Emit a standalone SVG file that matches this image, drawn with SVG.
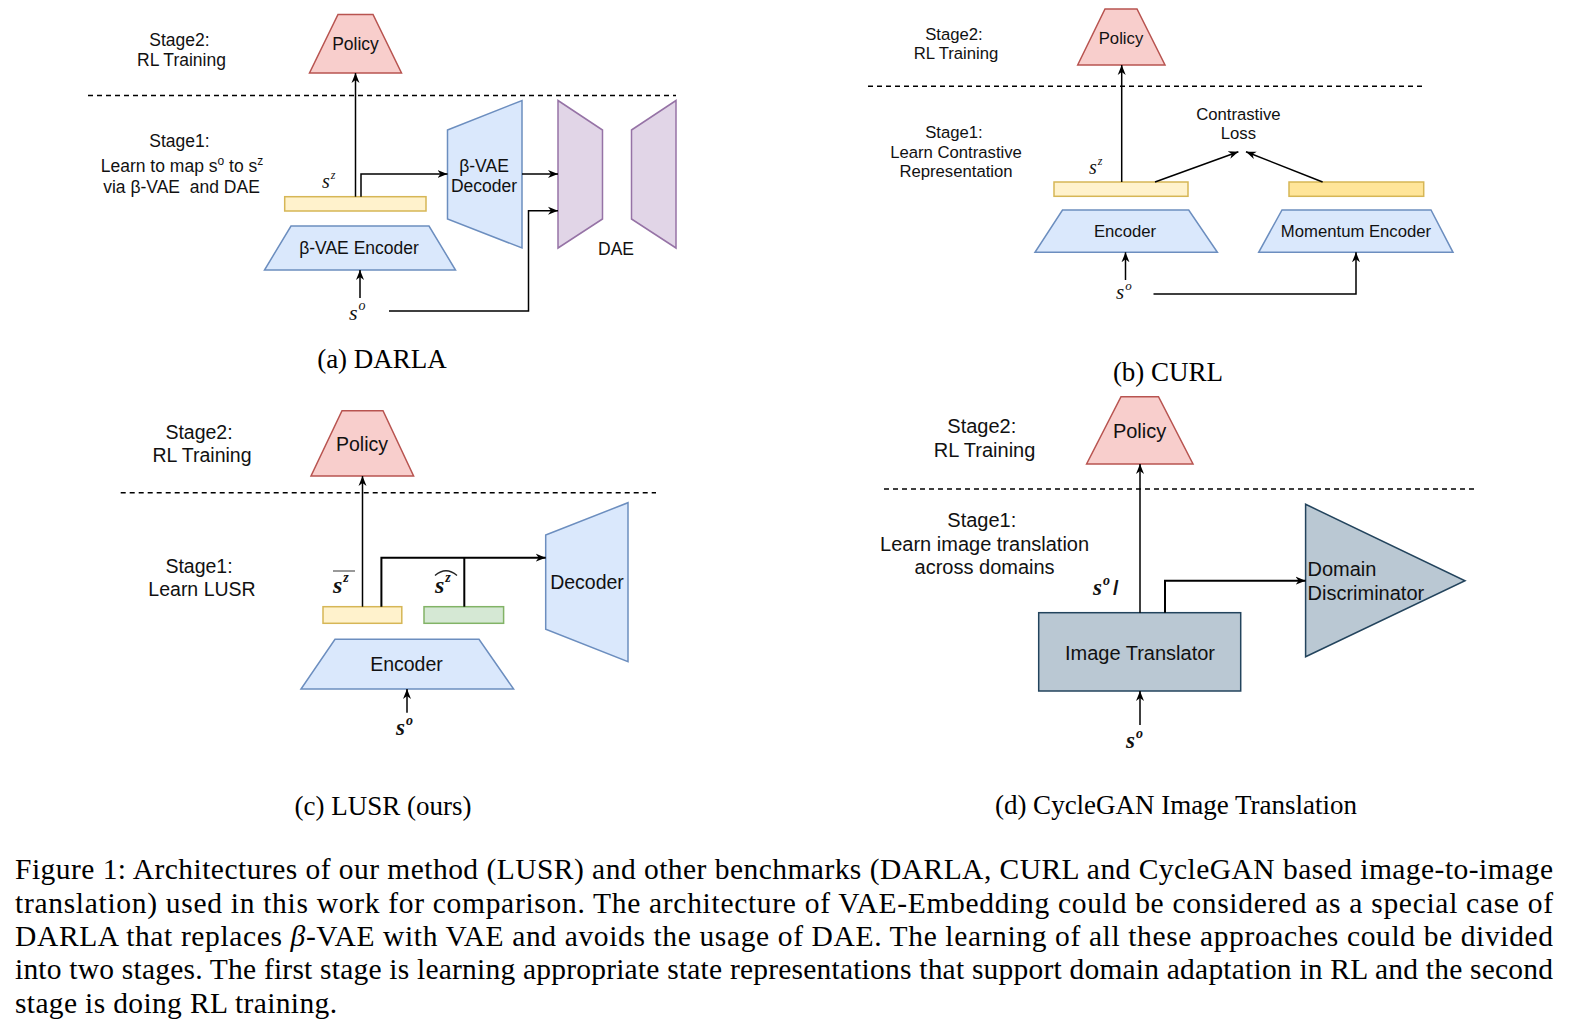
<svg xmlns="http://www.w3.org/2000/svg" width="1586" height="1026" viewBox="0 0 1586 1026">
<defs>
<style>
.t { font-family: "Liberation Sans", Arial, sans-serif; fill: #111; text-anchor: middle; }
.ta { font-size: 17.5px; }
.tb { font-size: 16.7px; }
.tc { font-size: 19.5px; }
.td { font-size: 20px; }
.m { font-family: "Liberation Serif", "Times New Roman", serif; font-style: italic; fill: #111; }
.mb { font-family: "Liberation Serif", "Times New Roman", serif; font-style: italic; font-weight: bold; fill: #111; }
.cap { font-family: "Liberation Serif", "Times New Roman", serif; font-size: 27px; fill: #000; text-anchor: middle; }
.fig { font-family: "Liberation Serif", "Times New Roman", serif; font-size: 29.5px; fill: #000; }
.red { fill: #f8cecc; stroke: #b85450; stroke-width: 1.5; }
.blue { fill: #dae8fc; stroke: #6c8ebf; stroke-width: 1.5; }
.yel { fill: #fff2cc; stroke: #d6b656; stroke-width: 1.5; }
.yel2 { fill: #ffe599; stroke: #d6b656; stroke-width: 1.5; }
.grn { fill: #d5e8d4; stroke: #82b366; stroke-width: 1.5; }
.pur { fill: #e1d5e7; stroke: #9673a6; stroke-width: 1.5; }
.gry { fill: #bac8d3; stroke: #23445d; stroke-width: 1.5; }
.dash { stroke: #000; stroke-width: 1.5; stroke-dasharray: 5 4; fill: none; }
.c { stroke: #000; stroke-width: 1.5; fill: none; }
.c2 { stroke: #000; stroke-width: 2; fill: none; }
.arr { marker-end: url(#ah); }
</style>
<marker id="ah" viewBox="0 0 10 10" refX="10" refY="5" markerWidth="10" markerHeight="10" markerUnits="userSpaceOnUse" orient="auto">
<path d="M0,1 L10,5 L0,9 L3,5 z" fill="#000"/>
</marker>
</defs>
<rect width="1586" height="1026" fill="#fff"/>

<!-- ===== Panel (a) DARLA ===== -->
<g id="a-stage2"><text class="t ta" x="179.5" y="46">Stage2:</text><text class="t ta" x="181.5" y="66">RL Training</text></g>
<g id="a-stage1"><text class="t ta" x="179.5" y="147">Stage1:</text>
<text class="t ta" x="182" y="172">Learn to map s<tspan dy="-7" font-size="12">o</tspan><tspan dy="7"> to s</tspan><tspan dy="-7" font-size="12">z</tspan></text>
<text class="t ta" x="181.5" y="193" xml:space="preserve">via β-VAE  and DAE</text></g>
<line id="a-divider" class="dash" x1="88" y1="95.5" x2="676" y2="95.5"/>
<g id="a-policy"><polygon class="red" points="338,14.5 373,14.5 401.5,73 309.5,73"/><text class="t ta" x="355.5" y="50">Policy</text></g>
<g id="a-sz"><rect class="yel" x="284.7" y="196.7" width="141.3" height="14.3"/></g>
<g id="a-encoder"><polygon class="blue" points="291,226 429,226 455.5,270 264.5,270"/><text class="t ta" x="359" y="254">β-VAE Encoder</text></g>
<g id="a-decoder"><polygon class="blue" points="447.5,130 522,100.5 522,248 447.5,219"/><text class="t ta" x="484" y="172">β-VAE</text><text class="t ta" x="484" y="192">Decoder</text></g>
<g id="a-dae"><polygon class="pur" points="558,100.5 602.5,130 602.5,219 558,248"/><polygon class="pur" points="631.5,130 676,100.5 676,248 631.5,219"/><text class="t ta" x="616" y="255">DAE</text></g>
<g id="a-labels"><text class="m" x="322" y="188" font-size="20">s<tspan dx="1" dy="-9" font-size="12">z</tspan></text>
<text class="m" x="349" y="320" font-size="22">s<tspan dx="1" dy="-10" font-size="14">o</tspan></text></g>
<text class="cap" x="382" y="368">(a) DARLA</text>

<!-- ===== Panel (b) CURL ===== -->
<g id="b-stage2"><text class="t tb" x="954" y="40">Stage2:</text><text class="t tb" x="956" y="59.3">RL Training</text></g>
<g id="b-stage1"><text class="t tb" x="954" y="138">Stage1:</text><text class="t tb" x="956" y="157.7">Learn Contrastive</text><text class="t tb" x="956" y="176.7">Representation</text></g>
<line id="b-divider" class="dash" x1="868" y1="86.3" x2="1424" y2="86.3"/>
<g id="b-policy"><polygon class="red" points="1105,9 1137,9 1165,65 1077.7,65"/><text class="t tb" x="1121" y="44">Policy</text></g>
<g id="b-loss"><text class="t tb" x="1238.4" y="120">Contrastive</text><text class="t tb" x="1238.4" y="139.3">Loss</text></g>
<g id="b-sz"><rect class="yel" x="1054" y="182" width="134" height="14.3"/></g>
<g id="b-sz2"><rect class="yel2" x="1289" y="182" width="134.7" height="14.3"/></g>
<g id="b-encoder"><polygon class="blue" points="1062.5,210 1188.7,210 1217.4,252.3 1035,252.3"/><text class="t tb" x="1125" y="237">Encoder</text></g>
<g id="b-momentum"><polygon class="blue" points="1282,210 1431,210 1453,252.3 1258.7,252.3"/><text class="t tb" x="1356" y="237">Momentum Encoder</text></g>
<g id="b-labels"><text class="m" x="1089" y="174" font-size="20">s<tspan dx="1" dy="-9" font-size="12">z</tspan></text>
<text class="m" x="1116" y="298.5" font-size="21">s<tspan dx="1" dy="-9" font-size="13">o</tspan></text></g>
<text class="cap" x="1168" y="381">(b) CURL</text>

<!-- ===== Panel (c) LUSR ===== -->
<g id="c-stage2"><text class="t tc" x="199" y="439">Stage2:</text><text class="t tc" x="202" y="461.7">RL Training</text></g>
<g id="c-stage1"><text class="t tc" x="199" y="573.3">Stage1:</text><text class="t tc" x="202" y="596">Learn LUSR</text></g>
<line id="c-divider" class="dash" x1="120.7" y1="492.7" x2="656" y2="492.7"/>
<g id="c-policy"><polygon class="red" points="342,410.7 383,410.7 413.6,476 311,476"/><text class="t tc" x="362" y="451">Policy</text></g>
<g id="c-szbar"><rect class="yel" x="323" y="606.7" width="78.8" height="16.6"/></g>
<g id="c-szhat"><rect class="grn" x="424" y="606.7" width="79.6" height="16.6"/></g>
<g id="c-decoder"><polygon class="blue" points="545.7,535 628,502.7 628,661.7 545.7,629.3"/><text class="t tc" x="587" y="589.3">Decoder</text></g>
<g id="c-encoder"><polygon class="blue" points="335,639.3 479,639.3 513.6,689 301,689"/><text class="t tc" x="406.5" y="671">Encoder</text></g>
<g id="c-labels">
<text class="mb" x="333" y="593" font-size="24">s<tspan dx="1" dy="-11" font-size="14">z</tspan></text>
<line x1="333" y1="571" x2="355" y2="571" stroke="#555" stroke-width="1.2"/>
<text class="mb" x="435" y="593" font-size="24">s<tspan dx="1" dy="-11" font-size="14">z</tspan></text>
<path d="M435,575.5 Q446,566 457,575.5" fill="none" stroke="#222" stroke-width="1.3"/>
<text class="mb" x="396" y="735" font-size="23">s<tspan dx="1" dy="-10" font-size="14">o</tspan></text>
</g>
<text class="cap" x="383" y="815">(c) LUSR (ours)</text>

<!-- ===== Panel (d) CycleGAN ===== -->
<g id="d-stage2"><text class="t td" x="981.8" y="432.7">Stage2:</text><text class="t td" x="984.6" y="456.7">RL Training</text></g>
<g id="d-stage1"><text class="t td" x="981.8" y="527.3">Stage1:</text><text class="t td" x="984.6" y="550.7">Learn image translation</text><text class="t td" x="984.6" y="574.3">across domains</text></g>
<line id="d-divider" class="dash" x1="884" y1="489" x2="1477" y2="489"/>
<g id="d-policy"><polygon class="red" points="1121,396.7 1158.5,396.7 1193,464 1086.6,464"/><text class="t td" x="1139.6" y="438.3">Policy</text></g>
<g id="d-translator"><rect class="gry" x="1038.7" y="612.7" width="202" height="78.3"/><text class="t td" x="1140" y="660">Image Translator</text></g>
<g id="d-discriminator"><polygon class="gry" points="1305.6,504.3 1465,580.7 1305.6,656.7"/><text class="t td" x="1307.5" y="576" style="text-anchor:start">Domain</text><text class="t td" x="1307.5" y="600" style="text-anchor:start">Discriminator</text></g>
<g id="d-labels">
<text class="mb" x="1093" y="595" font-size="23">s<tspan dx="1" dy="-10" font-size="14">o</tspan><tspan dx="3" dy="10" font-size="20" font-family="Liberation Sans, sans-serif" font-style="normal">/</tspan></text>
<text class="mb" x="1126" y="748" font-size="23">s<tspan dx="1" dy="-10" font-size="14">o</tspan></text>
</g>
<text class="cap" x="1176" y="814">(d) CycleGAN Image Translation</text>

<!-- ===== Connectors ===== -->
<g id="connectors">
<path class="c arr" d="M355.5,196.7 V73"/>
<path class="c arr" d="M361,196.7 V174 H447.5"/>
<path class="c arr" d="M522,174 H558"/>
<path class="c arr" d="M360,298 V270"/>
<path class="c arr" d="M389,311 H528.5 V210.7 H558"/>

<path class="c arr" d="M1121.7,182 V65"/>
<path class="c arr" d="M1155,182 L1238.4,151.7"/>
<path class="c arr" d="M1322.6,182 L1246,151.7"/>
<path class="c arr" d="M1125.5,280 V252.3"/>
<path class="c arr" d="M1153.5,294 H1356 V252.3"/>

<path class="c arr" d="M362.5,606.7 V476"/>
<path class="c2 arr" d="M381.4,606.7 V557.7 H545.7"/>
<path class="c2" d="M464.3,606.7 V557.7"/>
<path class="c arr" d="M407,712.7 V689"/>

<path class="c arr" d="M1140,612.7 V464"/>
<path class="c2 arr" d="M1165,612.7 V580.7 H1305.6"/>
<path class="c arr" d="M1140,725 V691"/>
</g>

<!-- ===== Figure caption ===== -->
<g id="caption">
<text class="fig" x="15" y="879" textLength="1538" lengthAdjust="spacing">Figure 1: Architectures of our method (LUSR) and other benchmarks (DARLA, CURL and CycleGAN based image-to-image</text>
<text class="fig" x="15" y="912.7" textLength="1538" lengthAdjust="spacing">translation) used in this work for comparison. The architecture of VAE-Embedding could be considered as a special case of</text>
<text class="fig" x="15" y="946" textLength="1538" lengthAdjust="spacing">DARLA that replaces <tspan font-style="italic">β</tspan>-VAE with VAE and avoids the usage of DAE. The learning of all these approaches could be divided</text>
<text class="fig" x="15" y="979.3" textLength="1538" lengthAdjust="spacing">into two stages. The first stage is learning appropriate state representations that support domain adaptation in RL and the second</text>
<text class="fig" x="15" y="1012.7" textLength="322" lengthAdjust="spacing">stage is doing RL training.</text>
</g>
</svg>
